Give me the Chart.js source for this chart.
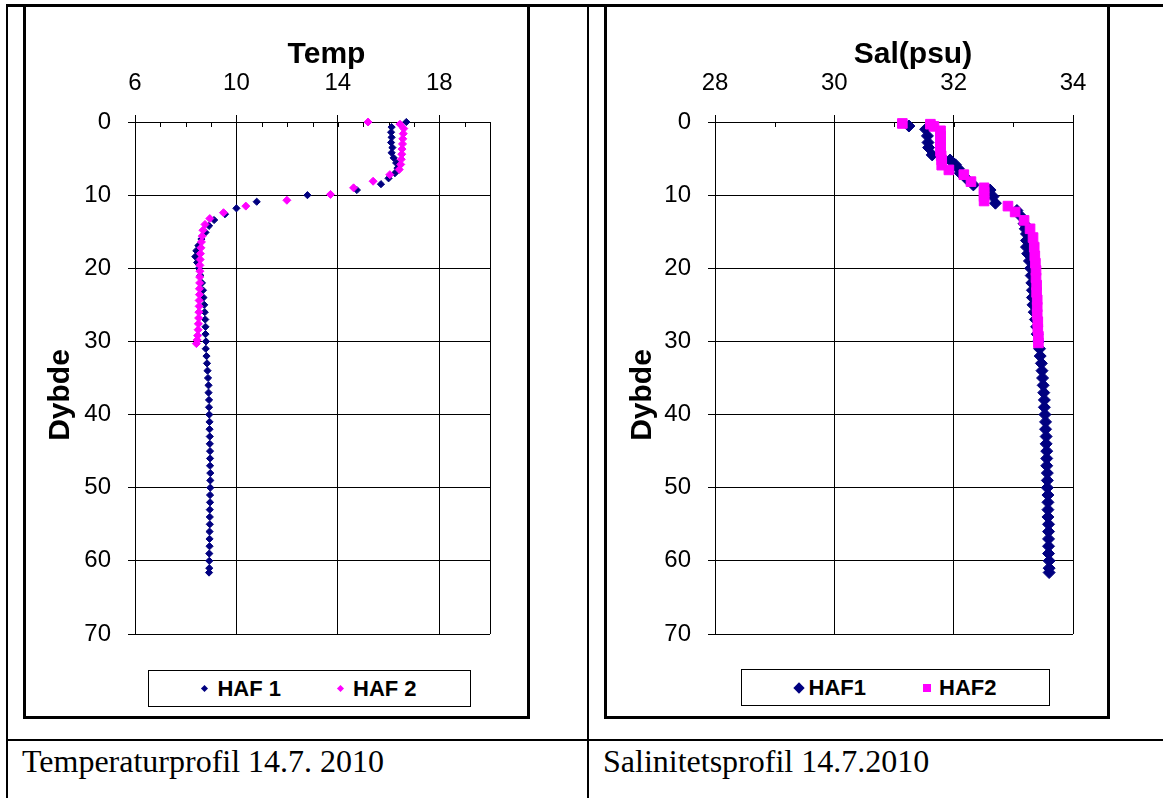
<!DOCTYPE html>
<html>
<head>
<meta charset="utf-8">
<title>HAF profiler 14.7.2010</title>
<script src="https://cdn.jsdelivr.net/npm/chart.js@4.4.0/dist/chart.umd.min.js"></script>
<style>
    body { margin: 0; width: 1163px; height: 798px; overflow: hidden; position: relative; background: #fff; }
    .rule { position: absolute; background: #000; }
    .frame { position: absolute; border: 3px solid #000; box-sizing: border-box; }
    canvas { position: absolute; }
    .legend { position: absolute; box-sizing: border-box; border: 1px solid #000; background: #fff;
              display: flex; align-items: center; justify-content: center;
              font: bold 22px Arial, "Liberation Sans", sans-serif; color: #000; }
    .legend .item { display: flex; align-items: center; }
    .legend .item + .item { margin-left: 57px; }
    .legend .mark { display: inline-block; }
    .caption { position: absolute; font: 32px "Times New Roman", "Liberation Serif", serif; line-height: 32px; color: #000; white-space: nowrap; }
</style>
</head>
<body>
<div class="rule" style="left:6px;top:4px;width:1157px;height:3px"></div>
<div class="rule" style="left:6px;top:4px;width:2px;height:794px"></div>
<div class="rule" style="left:587px;top:4px;width:2px;height:794px"></div>
<div class="rule" style="left:6px;top:739px;width:1157px;height:2px"></div>

<div class="frame" style="left:23px;top:4px;width:507px;height:715px"></div>
<canvas id="temp" width="501" height="709" style="left:26px;top:7px"></canvas>
<div class="legend" id="tempLegend" style="left:148px;top:670px;width:323px;height:37px"></div>

<div class="frame" style="left:604px;top:4px;width:506px;height:715px"></div>
<canvas id="sal" width="500" height="709" style="left:607px;top:7px"></canvas>
<div class="legend" id="salLegend" style="left:741px;top:669px;width:309px;height:37px"></div>

<div class="caption" style="left:22px;top:745px">Temperaturprofil 14.7. 2010</div>
<div class="caption" style="left:603px;top:745px">Salinitetsprofil 14.7.2010</div>

<script>
// temperature profile, station HAF 1 (depth m / deg C)
var tempDepth1 = [0, 0.7, 1.4, 2.1, 2.8, 3.5, 4.2, 4.9, 5.6, 6.3,
    7.0, 7.7, 8.5, 9.3, 10.0, 10.9, 11.8, 12.6, 13.4, 14.2,
    15.1, 16.0, 16.9, 17.6, 18.4, 19.2, 20,
    21, 22, 23, 24, 25, 26, 27, 28, 29, 30,
    31, 32, 33, 34, 35, 36, 37, 38, 39, 40,
    41, 42, 43, 44, 45, 46, 47, 48, 49, 50,
    51, 52, 53, 54, 55, 56, 57, 58, 59, 60,
    61, 61.6];
var tempHaf1 = [16.7, 16.12, 16.1, 16.12, 16.1, 16.15, 16.12, 16.2, 16.3, 16.35,
    16.25, 16.0, 15.7, 14.75, 12.8, 10.8, 10.0, 9.55, 9.12, 8.92,
    8.78, 8.62, 8.5, 8.42, 8.38, 8.45, 8.52,
    8.58, 8.64, 8.68, 8.7, 8.73, 8.75, 8.77, 8.78, 8.78, 8.8,
    8.79, 8.82, 8.84, 8.86, 8.88, 8.9, 8.9, 8.92, 8.92, 8.93,
    8.94, 8.94, 8.95, 8.95, 8.96, 8.96, 8.96, 8.97, 8.97, 8.97,
    8.96, 8.96, 8.95, 8.95, 8.95, 8.94, 8.94, 8.94, 8.93, 8.93,
    8.93, 8.92];

// temperature profile, station HAF 2
var tempDepth2 = [0, 0.3, 0.9, 1.6, 2.3, 3.0, 3.7, 4.4, 5.1, 5.8,
    6.5, 7.2, 8.1, 9.0, 9.9, 10.7, 11.5, 12.4, 13.2, 14.0,
    14.8, 15.6, 16.4, 17.2, 18.0, 18.8, 19.6, 20.4, 21.2, 22.0,
    22.8, 23.6, 24.4, 25.2, 26.0, 26.8, 27.6, 28.4, 29.2, 29.8,
    30.3];
var tempHaf2 = [15.19, 16.45, 16.6, 16.58, 16.56, 16.55, 16.53, 16.52, 16.5, 16.48,
    16.42, 16.05, 15.39, 14.62, 13.71, 11.99, 10.37, 9.49, 8.95, 8.76,
    8.68, 8.65, 8.62, 8.6, 8.58, 8.57, 8.56, 8.56, 8.55, 8.55,
    8.54, 8.54, 8.53, 8.53, 8.52, 8.51, 8.5, 8.49, 8.47, 8.45,
    8.42];

// salinity profile, HAF1 (psu)
var salDepth1 = [0.55, 1.0, 1.9, 2.8, 3.5, 4.5, 5.2, 5.85, 6.4, 7.0,
    7.8, 8.6, 9.3, 10.2, 11.1, 12.1, 13.0, 13.9, 14.6, 15.3,
    16.2, 17.1, 18.0, 19.0,
    20, 21, 22, 23, 24, 25, 26, 27, 28, 29,
    30, 31, 32, 33, 34, 35, 36, 37, 38, 39,
    40, 41, 42, 43, 44, 45, 46, 47, 48, 49,
    50, 51, 52, 53, 54, 55, 56, 57, 58, 59,
    60, 61, 61.6];
var salHaf1 = [31.25, 31.53, 31.56, 31.57, 31.58, 31.64, 31.94, 32.03, 32.08, 32.11,
    32.22, 32.33, 32.61, 32.66, 32.7, 33.06, 33.14, 33.18, 33.2, 33.22,
    33.22, 33.22, 33.24, 33.27,
    33.29, 33.3, 33.31, 33.32, 33.32, 33.33, 33.35, 33.37, 33.39, 33.4,
    33.42, 33.44, 33.45, 33.47, 33.48, 33.49, 33.5, 33.51, 33.52, 33.52,
    33.53, 33.54, 33.54, 33.55, 33.55, 33.56, 33.56, 33.56, 33.57, 33.57,
    33.57, 33.58, 33.58, 33.58, 33.58, 33.59, 33.59, 33.59, 33.59, 33.59,
    33.6, 33.6, 33.6];

// salinity profile, HAF2
var salDepth2 = [0.2, 0.3, 0.6, 1.2, 1.9, 2.6, 3.3, 4.0, 4.6, 5.2,
    5.9, 6.55, 7.2, 8.15, 9.0, 9.6, 10.2, 10.8, 11.5, 12.3,
    13.45, 14.6, 15.8, 17.1, 18.3, 19.3, 20.3, 21.3, 22.3, 23.3,
    24.3, 25.3, 26.3, 27.3, 28.3, 29.3, 30.2];
var salHaf2 = [31.14, 31.61, 31.67, 31.78, 31.78, 31.78, 31.78, 31.78, 31.79, 31.8,
    31.8, 31.92, 32.17, 32.29, 32.51, 32.51, 32.51, 32.51, 32.91, 33.03,
    33.18, 33.28, 33.33, 33.35, 33.36, 33.37, 33.38, 33.38, 33.39, 33.39,
    33.4, 33.4, 33.4, 33.41, 33.41, 33.42, 33.42];

var tempTicks = [6, 10, 14, 18];
var salTicks = [28, 30, 32, 34];
var depthTicks = [0, 10, 20, 30, 40, 50, 60, 70];

var navy = '#000080';
var magenta = '#FF00FF';
var fontStack = 'Arial, "Liberation Sans", sans-serif';

Chart.defaults.font.family = fontStack;
Chart.defaults.color = '#000';

var toPoints = function (depths, values) {
    return depths.map(function (d, i) { return { x: values[i], y: d }; });
};

// short inward ticks along the top axis at every whole unit
var innerTicks = {
    id: 'innerTicks',
    beforeDatasetsDraw: function (chart) {
        var ctx = chart.ctx, scale = chart.scales.x, top = chart.chartArea.top;
        ctx.save();
        ctx.strokeStyle = '#000';
        ctx.lineWidth = 1;
        ctx.beginPath();
        scale.ticks.forEach(function (t) {
            var px = Math.round(scale.getPixelForValue(t.value)) + 0.5;
            ctx.moveTo(px, top);
            ctx.lineTo(px, top + 5);
        });
        ctx.stroke();
        ctx.restore();
    }
};

// axis titles, placed the way the spreadsheet does it
var axisTitles = {
    id: 'axisTitles',
    afterDraw: function (chart, args, opts) {
        var ctx = chart.ctx, area = chart.chartArea;
        ctx.save();
        ctx.fillStyle = '#000';
        ctx.font = 'bold 30px ' + fontStack;
        ctx.textAlign = 'center';
        ctx.textBaseline = 'alphabetic';
        ctx.fillText(opts.xText, (area.left + area.right) / 2 + opts.xShift, 56);
        ctx.translate(opts.yBase, (area.top + area.bottom) / 2 + 17);
        ctx.rotate(-Math.PI / 2);
        ctx.fillText(opts.yText, 0, 0);
        ctx.restore();
    }
};

var createProfile = function (id, cfg) {
    var isMajor = function (v) { return cfg.labels.indexOf(v) !== -1; };
    return new Chart(document.getElementById(id), {
        type: 'scatter',
        data: {
            datasets: [{
                label: cfg.names[0],
                data: cfg.series1,
                order: 1,
                clip: false,
                pointStyle: 'rectRot',
                pointRadius: cfg.radius1,
                backgroundColor: navy,
                borderColor: navy,
                borderWidth: 1
            }, {
                label: cfg.names[1],
                data: cfg.series2,
                order: 0,
                clip: false,
                pointStyle: cfg.style2,
                pointRadius: cfg.radius2,
                backgroundColor: magenta,
                borderColor: magenta,
                borderWidth: 1
            }]
        },
        options: {
            responsive: false,
            animation: false,
            events: [],
            layout: { padding: { left: 0, top: 0, right: cfg.padRight, bottom: 82 } },
            plugins: {
                legend: { display: false },
                tooltip: { enabled: false },
                axisTitles: { xText: cfg.xTitle, xShift: cfg.xShift, yText: 'Dybde', yBase: cfg.yBase }
            },
            scales: {
                x: {
                    type: 'linear',
                    position: 'top',
                    min: cfg.min,
                    max: cfg.max,
                    afterFit: function (s) { s.height = 115; },
                    ticks: {
                        stepSize: 1,
                        autoSkip: false,
                        maxRotation: 0,
                        padding: 17,
                        font: { size: 24 },
                        callback: function (v) { return isMajor(v) ? String(v) : ''; }
                    },
                    grid: {
                        tickLength: 7,
                        lineWidth: 1,
                        color: function (c) {
                            var v = c.tick && c.tick.value;
                            return (isMajor(v) || v === cfg.max) ? '#000' : 'rgba(0,0,0,0)';
                        },
                        tickColor: function (c) {
                            return isMajor(c.tick && c.tick.value) ? '#000' : 'rgba(0,0,0,0)';
                        }
                    },
                    border: { color: '#000', width: 1 }
                },
                y: {
                    type: 'linear',
                    reverse: true,
                    min: depthTicks[0],
                    max: depthTicks[depthTicks.length - 1],
                    afterFit: function (s) { s.width = cfg.plotLeft; },
                    ticks: {
                        stepSize: 10,
                        autoSkip: false,
                        padding: 17,
                        font: { size: 24 }
                    },
                    grid: { tickLength: 7, lineWidth: 1, color: '#000', tickColor: '#000' },
                    border: { color: '#000', width: 1 }
                }
            }
        },
        plugins: [innerTicks, axisTitles]
    });
};

var buildLegend = function (id, names, shapes) {
    var box = document.getElementById(id);
    var colors = [navy, magenta];
    names.forEach(function (name, i) {
        var item = document.createElement('span');
        item.className = 'item';
        var mark = document.createElement('span');
        mark.className = 'mark';
        var s = shapes[i];
        mark.style.width = s.size + 'px';
        mark.style.height = s.size + 'px';
        mark.style.background = colors[i];
        mark.style.marginRight = s.gap + 'px';
        if (s.diamond) mark.style.transform = 'rotate(45deg)';
        item.appendChild(mark);
        item.appendChild(document.createTextNode(name));
        box.appendChild(item);
    });
};

createProfile('temp', {
    names: ['HAF 1', 'HAF 2'],
    series1: toPoints(tempDepth1, tempHaf1),
    series2: toPoints(tempDepth2, tempHaf2),
    radius1: 3.6,
    radius2: 4.0,
    style2: 'rectRot',
    min: 6,
    max: 20,
    labels: tempTicks,
    plotLeft: 109,
    padRight: 37,
    xTitle: 'Temp',
    xShift: 14,
    yBase: 43
});

createProfile('sal', {
    names: ['HAF1', 'HAF2'],
    series1: toPoints(salDepth1, salHaf1),
    series2: toPoints(salDepth2, salHaf2),
    radius1: 6.0,
    radius2: 6.8,
    style2: 'rect',
    min: 28,
    max: 34,
    labels: salTicks,
    plotLeft: 108,
    padRight: 34,
    xTitle: 'Sal(psu)',
    xShift: 19,
    yBase: 44
});

buildLegend('tempLegend', ['HAF 1', 'HAF 2'], [
    { size: 5, gap: 10, diamond: true },
    { size: 5, gap: 10, diamond: true }
]);
buildLegend('salLegend', ['HAF1', 'HAF2'], [
    { size: 8, gap: 6, diamond: true },
    { size: 8, gap: 8, diamond: false }
]);
</script>
</body>
</html>
